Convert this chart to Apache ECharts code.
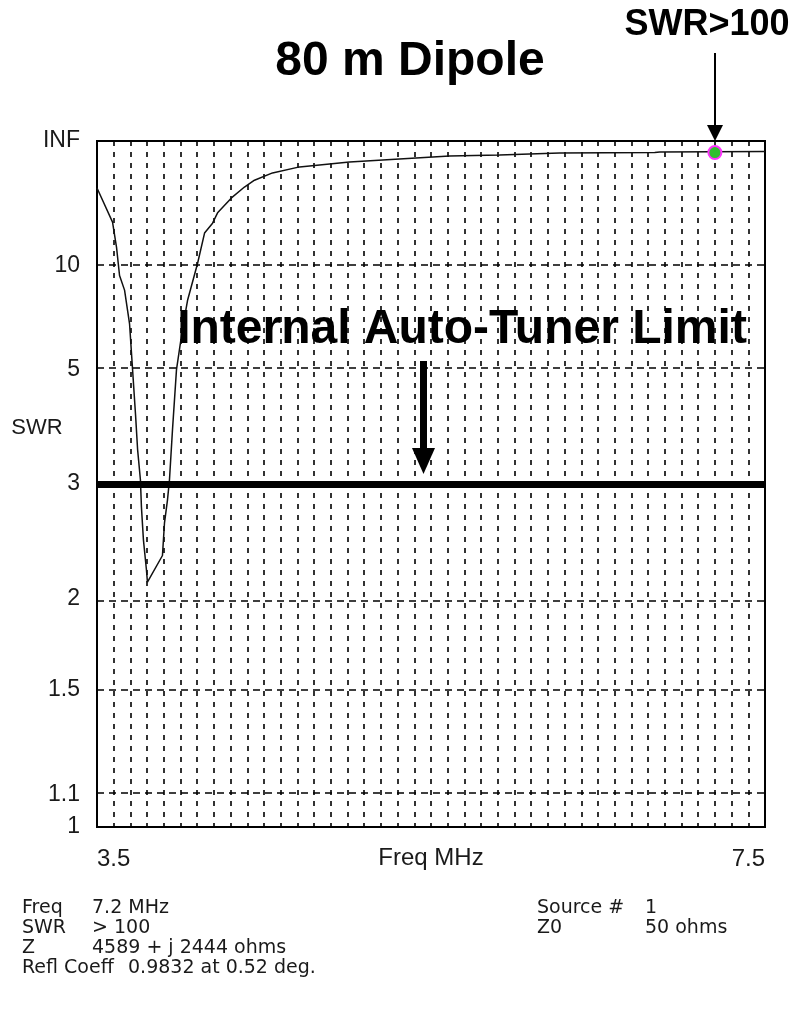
<!DOCTYPE html>
<html>
<head>
<meta charset="utf-8">
<title>80 m Dipole SWR</title>
<script src="https://cdn.jsdelivr.net/npm/echarts@6/dist/echarts.min.js"></script>
<style>
  html, body { margin: 0; padding: 0; background: #fff; }
  #chart { width: 799px; height: 1014px; }
</style>
</head>
<body>
<div id="chart"></div>
<script>
// frequency sweep (MHz) and SWR
const freq = [3.50, 3.593, 3.617, 3.635, 3.665, 3.695, 3.713, 3.731, 3.743, 3.760, 3.766, 3.778, 3.796, 3.802,
  3.892, 3.904, 3.922, 3.934, 3.952, 3.976, 4.012, 4.042, 4.102, 4.144, 4.192, 4.222, 4.305, 4.383, 4.443,
  4.551, 4.713, 5.012, 5.311, 5.611, 5.910, 6.270, 6.840, 6.870, 7.50]
const swr = [28.2, 15.9, 11.9, 9.2, 8.2, 6.5, 5.0, 4.0, 3.45, 3.05, 2.75, 2.44, 2.2, 2.11,
  2.31, 2.59, 2.82, 3.05, 3.75, 5.0, 6.3, 7.6, 10.2, 13.9, 15.7, 18.1, 23.1, 28.8, 34,
  42, 52, 64, 75, 90, 97, 113, 118, 125, 130]

// y-axis tick labels (SWR scale), grid lines, tuner limit, marker
const swrTicks = [1, 1.1, 1.5, 2, 3, 5, 10, Infinity]
const swrTickLabels = ['1', '1.1', '1.5', '2', '3', '5', '10', 'INF']
const swrGrid = [1.1, 1.5, 2, 3, 5, 10]
const tunerLimit = 3
const markerFreq = 7.2
const markerSwr = 118

// readout under the chart
const infoLeftKeys = ['Freq', 'SWR', 'Z', 'Refl Coeff']
const infoLeftVals = ['7.2 MHz', '> 100', '4589 + j 2444 ohms', '0.9832 at 0.52 deg.']
const infoRightKeys = ['Source #', 'Z0']
const infoRightVals = ['1', '50 ohms']

// SWR plotted on a reflection-coefficient scale
const rho = s => (s === Infinity ? 1 : (s - 1) / (s + 1))

const chart = echarts.init(document.getElementById('chart'))

const labelFont = { fontFamily: 'Liberation Sans, Arial, sans-serif', fontSize: 23, color: '#1a1a1a' }
const infoFont = '19px DejaVu Sans, sans-serif'

const graphics = []
// titles / annotations
graphics.push({ type: 'text', x: 410, y: 62, style: { text: '80 m Dipole', font: 'bold 48px Liberation Sans, Arial, sans-serif', fill: '#000', textAlign: 'center', textVerticalAlign: 'middle' } })
graphics.push({ type: 'text', x: 707, y: 25, style: { text: 'SWR>100', font: 'bold 36px Liberation Sans, Arial, sans-serif', fill: '#000', textAlign: 'center', textVerticalAlign: 'middle' } })
graphics.push({ type: 'text', x: 462, y: 330, z: 10, style: { text: 'Internal Auto-Tuner Limit', font: 'bold 48px Liberation Sans, Arial, sans-serif', fill: '#000', textAlign: 'center', textVerticalAlign: 'middle' } })
graphics.push({ type: 'text', x: 37, y: 428, style: { text: 'SWR', font: '22px Liberation Sans, Arial, sans-serif', fill: '#1a1a1a', textAlign: 'center', textVerticalAlign: 'middle' } })
// arrows
graphics.push({ type: 'line', z: 10, shape: { x1: 715, y1: 53, x2: 715, y2: 128 }, style: { stroke: '#000', lineWidth: 2 } })
graphics.push({ type: 'polygon', z: 10, shape: { points: [[707, 125], [723, 125], [715, 141]] }, style: { fill: '#000' } })
graphics.push({ type: 'rect', z: 10, shape: { x: 420, y: 361, width: 7, height: 90 }, style: { fill: '#000' } })
graphics.push({ type: 'polygon', z: 10, shape: { points: [[412, 448], [435, 448], [423.5, 474]] }, style: { fill: '#000' } })
// readout (last row's value sits past the long key)
infoLeftKeys.forEach((k, i) => {
  graphics.push({ type: 'text', x: 22, y: 908 + i * 20, style: { text: k, font: infoFont, fill: '#1a1a1a', textVerticalAlign: 'middle' } })
  graphics.push({ type: 'text', x: i === 3 ? 128 : 92, y: 908 + i * 20, style: { text: infoLeftVals[i], font: infoFont, fill: '#1a1a1a', textVerticalAlign: 'middle' } })
})
infoRightKeys.forEach((k, i) => {
  graphics.push({ type: 'text', x: 537, y: 908 + i * 20, style: { text: k, font: infoFont, fill: '#1a1a1a', textVerticalAlign: 'middle' } })
  graphics.push({ type: 'text', x: 645, y: 908 + i * 20, style: { text: infoRightVals[i], font: infoFont, fill: '#1a1a1a', textVerticalAlign: 'middle' } })
})

chart.setOption({
  animation: false,
  backgroundColor: '#fff',
  grid: {
    left: 97, top: 141, width: 668, height: 686,
    show: true, borderColor: '#000', borderWidth: 2, backgroundColor: 'transparent'
  },
  xAxis: {
    type: 'value',
    min: 3.5,
    max: 7.5,
    interval: 0.1,
    name: 'Freq MHz',
    nameLocation: 'middle',
    nameGap: 19,
    nameMoveOverlap: false,
    nameTextStyle: Object.assign({ verticalAlign: 'top' }, labelFont, { fontSize: 24 }),
    axisLine: { show: false },
    axisTick: { show: false },
    axisLabel: Object.assign({
      interval: 0,
      margin: 20,
      alignMinLabel: 'left',
      alignMaxLabel: 'right',
      formatter: v => (Math.abs(v - 3.5) < 1e-6 || Math.abs(v - 7.5) < 1e-6 ? v.toFixed(1) : '')
    }, labelFont, { fontSize: 24 }),
    splitLine: { show: true, lineStyle: { color: '#000', width: 1.6, type: [5, 6] } }
  },
  yAxis: {
    type: 'value',
    min: 0,
    max: 1,
    axisLine: { show: false },
    axisTick: { show: false },
    splitLine: { show: false },
    axisLabel: Object.assign({
      margin: 17,
      customValues: swrTicks.map(rho),
      formatter: v => {
        let best = 0
        swrTicks.forEach((s, i) => { if (Math.abs(rho(s) - v) < Math.abs(rho(swrTicks[best]) - v)) best = i })
        return swrTickLabels[best]
      }
    }, labelFont)
  },
  graphic: graphics,
  series: [
    {
      type: 'line',
      data: freq.map((f, i) => [f, rho(swr[i])]),
      symbol: 'none',
      lineStyle: { color: '#111', width: 1.5 },
      markLine: {
        silent: true,
        symbol: 'none',
        label: { show: false },
        lineStyle: { color: '#000', width: 1.5, type: [7, 5] },
        data: swrGrid.map(s => ({ yAxis: rho(s) }))
      },
      z: 3
    },
    {
      type: 'line',
      data: [],
      markLine: {
        silent: true,
        symbol: 'none',
        label: { show: false },
        lineStyle: { color: '#000', width: 7, type: 'solid' },
        data: [{ yAxis: rho(tunerLimit) }]
      },
      z: 4
    },
    {
      type: 'scatter',
      data: [[markerFreq, rho(markerSwr)]],
      symbol: 'circle',
      symbolSize: 13,
      itemStyle: { color: '#2fbf2f', borderColor: '#ff33ff', borderWidth: 2, opacity: 1 },
      z: 5
    }
  ]
})
</script>
</body>
</html>
